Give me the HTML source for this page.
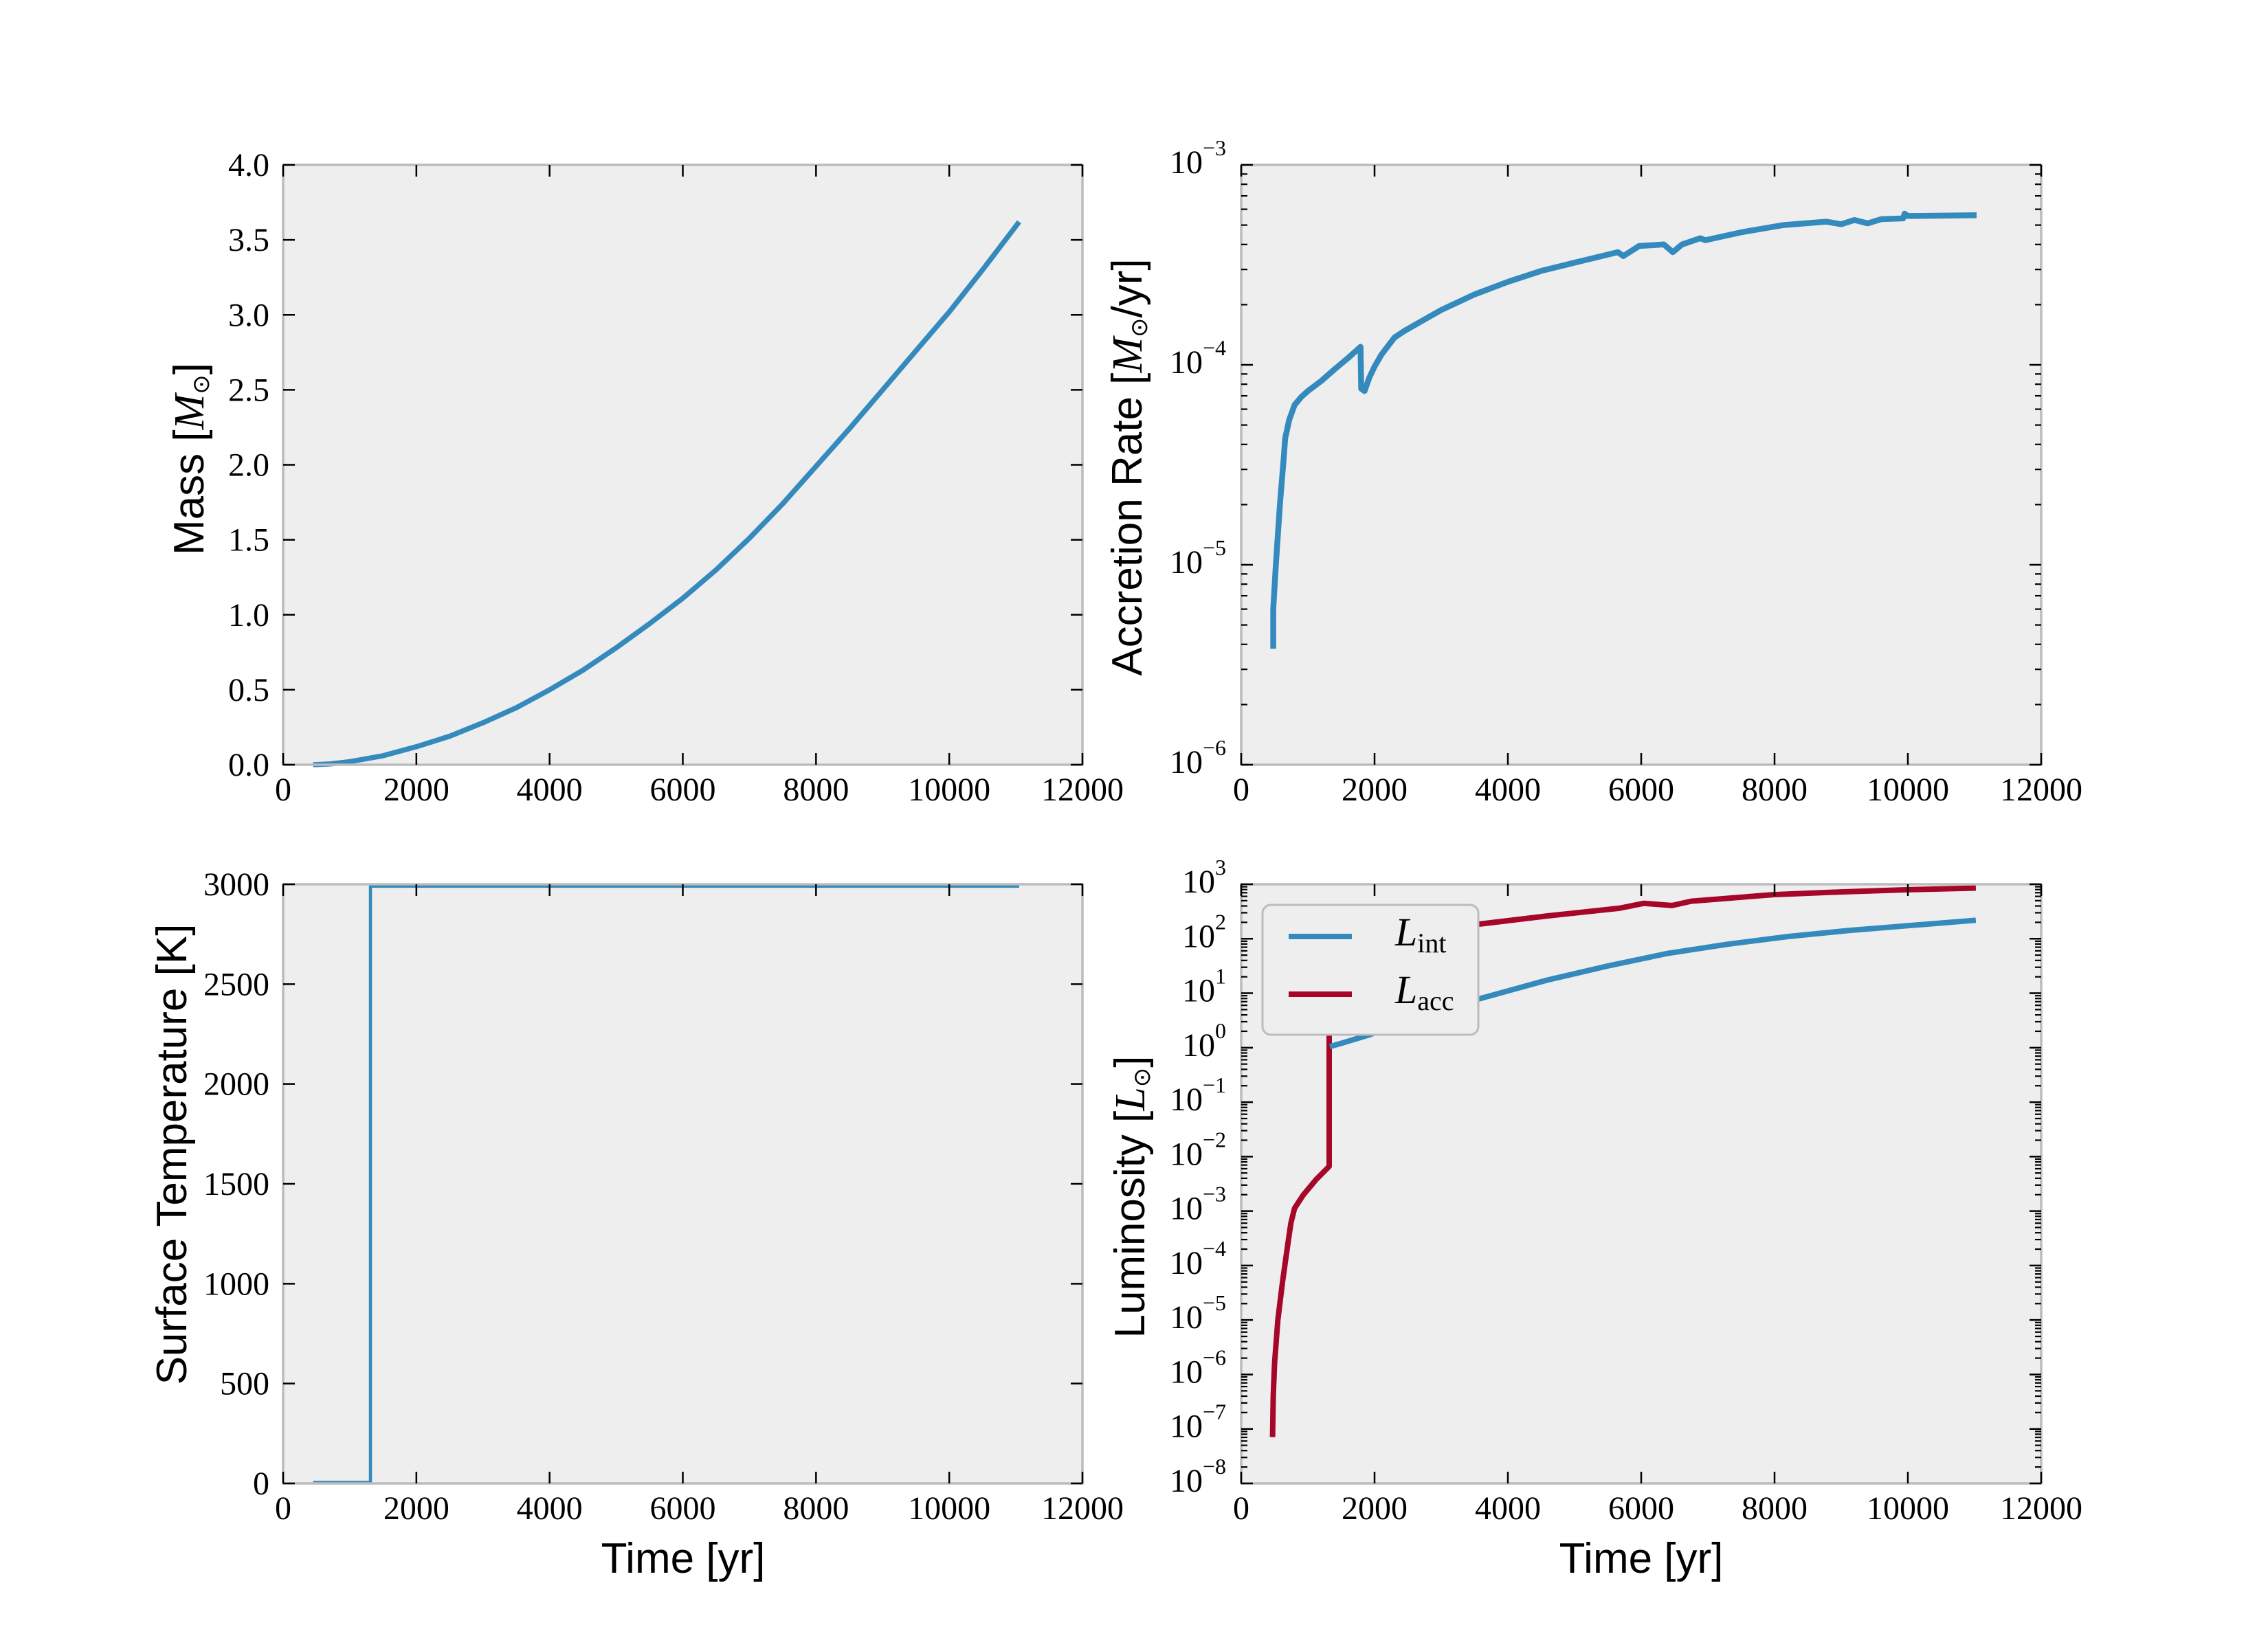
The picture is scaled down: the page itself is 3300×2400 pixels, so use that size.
<!DOCTYPE html>
<html><head><meta charset="utf-8"><style>
html,body{margin:0;padding:0;background:#fff;}
svg{display:block;}
text{font-family:"Liberation Serif",serif;fill:#000;}
.lab{font-family:"Liberation Sans",sans-serif;font-size:62px;}
</style></head><body>
<svg id="s" width="3300" height="2400" xmlns="http://www.w3.org/2000/svg"></svg>
<script>
const S=document.getElementById('s');let h='';
const X0L=412,X1L=1575,X0R=1806,X1R=2970,YT0=240,YT1=1113,YB0=1287,YB1=2159;
function add(s){h+=s;}
function axes(x0,x1,y0,y1){
 add(`<rect x="${x0}" y="${y0}" width="${x1-x0}" height="${y1-y0}" fill="#eeeeee"/>`);
}
function frame(x0,x1,y0,y1){
 add(`<rect x="${x0}" y="${y0}" width="${x1-x0}" height="${y1-y0}" fill="none" stroke="#bcbcbc" stroke-width="3.5"/>`);
}
function xticks(x0,x1,y0,y1){
 for(let i=0;i<=6;i++){const x=x0+(x1-x0)*i/6;
  add(`<line x1="${x}" y1="${y1}" x2="${x}" y2="${y1-17}" stroke="#000" stroke-width="2.5"/><line x1="${x}" y1="${y0}" x2="${x}" y2="${y0+17}" stroke="#000" stroke-width="2.5"/>`);
  add(`<text x="${x}" y="${y1+52}" font-size="48" text-anchor="middle">${i*2000}</text>`);}
}
function ylin(x0,x1,y0,y1,n,lab){
 for(let i=0;i<=n;i++){const y=y1-(y1-y0)*i/n;
  add(`<line x1="${x0}" y1="${y}" x2="${x0+17}" y2="${y}" stroke="#000" stroke-width="2.5"/><line x1="${x1}" y1="${y}" x2="${x1-17}" y2="${y}" stroke="#000" stroke-width="2.5"/>`);
  add(`<text x="${x0-20}" y="${y+16}" font-size="48" text-anchor="end">${lab(i)}</text>`);}
}
function ylog(x0,x1,y0,y1,lo,hi){
 const n=hi-lo,d=(y1-y0)/n;
 for(let k=lo;k<=hi;k++){const y=y1-(k-lo)*d;
  add(`<line x1="${x0}" y1="${y}" x2="${x0+17}" y2="${y}" stroke="#000" stroke-width="2.5"/><line x1="${x1}" y1="${y}" x2="${x1-17}" y2="${y}" stroke="#000" stroke-width="2.5"/>`);
  add(`<text x="${x0-22}" y="${y+12}" font-size="48" text-anchor="end">10<tspan font-size="32" dy="-26">${k<0?'\u2212'+(-k):k}</tspan></text>`);
  if(k<hi)for(let m=2;m<=9;m++){const ym=y-Math.log10(m)*d;
   add(`<line x1="${x0}" y1="${ym}" x2="${x0+9}" y2="${ym}" stroke="#000" stroke-width="2.2"/><line x1="${x1}" y1="${ym}" x2="${x1-9}" y2="${ym}" stroke="#000" stroke-width="2.2"/>`);}
 }
}
function path(pts,fx,fy,col,w){
 add(`<path d="${pts.map((p,i)=>(i?'L':'M')+fx(p[0]).toFixed(1)+','+fy(p[1]).toFixed(1)).join(' ')}" fill="none" stroke="${col}" stroke-width="${w}" stroke-linejoin="round"/>`);
}
const kx=(X1L-X0L)/12000;
const fxL=t=>X0L+t*kx, fxR=t=>X0R+t*(X1R-X0R)/12000;
const BLUE='#348abd',RED='#a60628';
// panel 1
axes(X0L,X1L,YT0,YT1);
const mass=[[450,0],[700,0.005],[1000,0.02],[1500,0.06],[2000,0.12],[2500,0.19],[3000,0.28],[3500,0.38],[4000,0.5],[4500,0.63],[5000,0.78],[5500,0.94],[6000,1.11],[6500,1.3],[7000,1.51],[7500,1.74],[8000,1.99],[8500,2.24],[9000,2.5],[9500,2.76],[10000,3.02],[10500,3.3],[11050,3.62]];
path(mass,fxL,v=>YT1-v*(YT1-YT0)/4,BLUE,7.5);
frame(X0L,X1L,YT0,YT1);xticks(X0L,X1L,YT0,YT1);ylin(X0L,X1L,YT0,YT1,8,i=>(i*0.5).toFixed(1));
// panel 2
axes(X0R,X1R,YT0,YT1);
const fyA=v=>YT1-(Math.log10(v)+6)*(YT1-YT0)/3;
const acc=[[480,3.8e-6],[480,6e-6],[520,1e-5],[580,2e-5],[640,3.5e-5],[660,4.3e-5],[720,5.3e-5],[800,6.3e-5],[900,6.9e-5],[1000,7.4e-5],[1200,8.3e-5],[1400,9.5e-5],[1600,1.08e-4],[1790,1.23e-4],[1800,7.6e-5],[1850,7.4e-5],[1920,8.6e-5],[2000,9.8e-5],[2100,1.12e-4],[2200,1.24e-4],[2300,1.37e-4],[2450,1.48e-4],[2700,1.65e-4],[3000,1.88e-4],[3500,2.25e-4],[4000,2.6e-4],[4500,2.95e-4],[5093,3.3e-4],[5650,3.66e-4],[5732,3.5e-4],[5969,3.93e-4],[6340,4.0e-4],[6474,3.66e-4],[6612,4.0e-4],[6887,4.3e-4],[6960,4.2e-4],[7500,4.6e-4],[8134,5.0e-4],[8773,5.2e-4],[9000,5.05e-4],[9200,5.3e-4],[9400,5.1e-4],[9600,5.35e-4],[9928,5.4e-4],[9950,5.7e-4],[10000,5.55e-4],[11031,5.6e-4]];
path(acc,fxR,fyA,BLUE,8.5);
frame(X0R,X1R,YT0,YT1);xticks(X0R,X1R,YT0,YT1);ylog(X0R,X1R,YT0,YT1,-6,-3);
// panel 3
axes(X0L,X1L,YB0,YB1);
const fyT=v=>YB1-v*(YB1-YB0)/3000;
path([[450,5],[1310,5],[1310,2990],[11050,2990]],fxL,fyT,BLUE,4.5);
frame(X0L,X1L,YB0,YB1);xticks(X0L,X1L,YB0,YB1);ylin(X0L,X1L,YB0,YB1,6,i=>i*500);
// panel 4
axes(X0R,X1R,YB0,YB1);
const fyL=l=>YB1-(l+8)*(YB1-YB0)/11;
const lacc=[[470,-7.15],[480,-6.4],[500,-5.8],[550,-5.0],[620,-4.3],[700,-3.6],[745,-3.22],[800,-2.95],[928,-2.71],[1124,-2.42],[1320,-2.18],[1320,1.95],[2000,2.05],[3577,2.27],[4600,2.42],[5670,2.56],[6040,2.65],[6463,2.61],[6750,2.69],[7980,2.81],[9000,2.86],[10010,2.9],[11020,2.93]];
const lint=[[1330,0.02],[1500,0.08],[1907,0.23],[2500,0.5],[3000,0.7],[3577,0.9],[4588,1.24],[5500,1.5],[6392,1.73],[7300,1.9],[8196,2.04],[9100,2.15],[10010,2.24],[11020,2.34]];
path(lacc,fxR,fyL,RED,8);
path(lint,fxR,fyL,BLUE,8);
frame(X0R,X1R,YB0,YB1);xticks(X0R,X1R,YB0,YB1);ylog(X0R,X1R,YB0,YB1,-8,3);
// legend
add(`<rect x="1837" y="1317" width="314" height="189" rx="12" fill="#eeeeee" stroke="#bcbcbc" stroke-width="3"/>`);
add(`<line x1="1875" y1="1363" x2="1967" y2="1363" stroke="${BLUE}" stroke-width="8"/>`);
add(`<line x1="1875" y1="1447" x2="1967" y2="1447" stroke="${RED}" stroke-width="8"/>`);
add(`<text x="2030" y="1376" font-size="58" font-style="italic">L<tspan font-style="normal" font-size="40" dy="10">int</tspan></text>`);
add(`<text x="2030" y="1460" font-size="58" font-style="italic">L<tspan font-style="normal" font-size="40" dy="10">acc</tspan></text>`);
// axis labels
add(`<text class="lab" x="994" y="2289" text-anchor="middle">Time [yr]</text>`);
add(`<text class="lab" x="2388" y="2289" text-anchor="middle">Time [yr]</text>`);
add(`<text class="lab" transform="translate(296,668) rotate(-90)" text-anchor="middle">Mass [<tspan font-family="Liberation Serif" font-style="italic">M</tspan><tspan font-family="DejaVu Sans" font-size="34" dy="8">\u2299</tspan><tspan dy="-8">]</tspan></text>`);
add(`<text class="lab" transform="translate(1661,680) rotate(-90)" text-anchor="middle">Accretion Rate [<tspan font-family="Liberation Serif" font-style="italic">M</tspan><tspan font-family="DejaVu Sans" font-size="34" dy="8">\u2299</tspan><tspan dy="-8">/yr]</tspan></text>`);
add(`<text class="lab" transform="translate(271,1680) rotate(-90)" text-anchor="middle">Surface Temperature [K]</text>`);
add(`<text class="lab" transform="translate(1665,1742) rotate(-90)" text-anchor="middle">Luminosity [<tspan font-family="Liberation Serif" font-style="italic">L</tspan><tspan font-family="DejaVu Sans" font-size="34" dy="8">\u2299</tspan><tspan dy="-8">]</tspan></text>`);
S.innerHTML=h;
</script>
</body></html>
